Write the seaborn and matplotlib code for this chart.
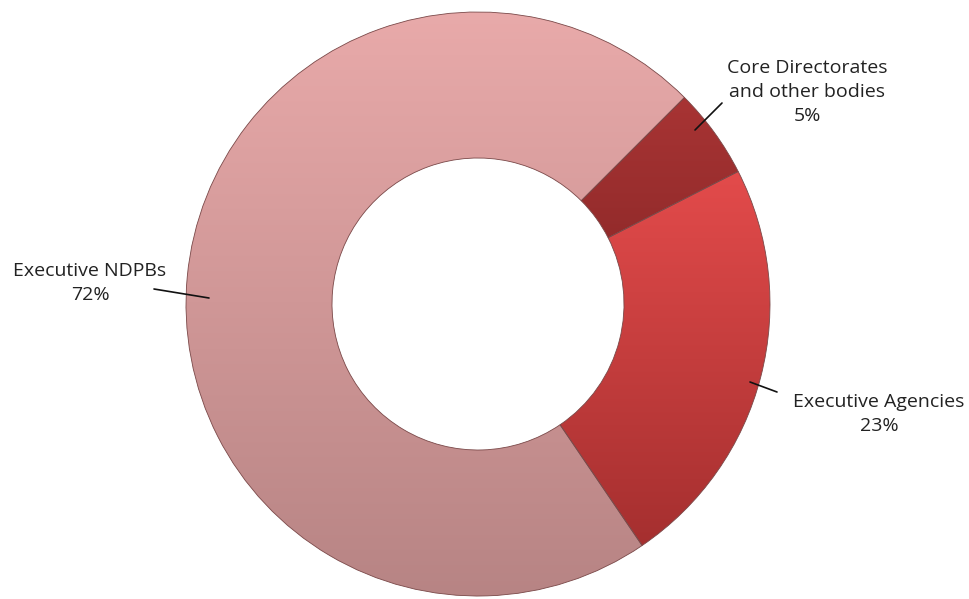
import numpy as np
import matplotlib
matplotlib.use("Agg")
import matplotlib.pyplot as plt
import matplotlib.colors as mcolors
import seaborn as sns

sns.set_theme(style="white")
plt.rcParams['font.family'] = ['Open Sans', 'DejaVu Sans']

# data (clockwise from upper right)
labels = ["Core Directorates\nand other bodies", "Executive Agencies", "Executive NDPBs"]
shares = [5, 23, 72]
top_colors = ["#A83434", "#E34B4B", "#E9AAAA"]
bottom_colors = ["#8A2727", "#A52F2F", "#B78484"]

fig = plt.figure(figsize=(9.7, 5.99), dpi=100)
ax = fig.add_axes([(478 - 292) / 970, (295 - 292) / 599, 584 / 970, 584 / 599])

wedges, _ = ax.pie(shares, startangle=45, counterclock=False, radius=1,
                   wedgeprops=dict(width=0.5, edgecolor="#7a4848", linewidth=0.6),
                   colors=top_colors)

# vertical gradient fill for each wedge, spanning the wedge's own height
for w, c1, c2 in zip(wedges, top_colors, bottom_colors):
    ys = w.get_path().vertices[:, 1]
    cmap = mcolors.LinearSegmentedColormap.from_list("g", [c2, c1])
    grad = np.linspace(0, 1, 256).reshape(-1, 1)
    im = ax.imshow(grad, cmap=cmap, extent=(-1, 1, ys.min(), ys.max()), origin="lower",
                   aspect="auto", zorder=w.get_zorder() + 0.1, interpolation="bilinear")
    im.set_clip_path(w)
    w.set_facecolor("none")
    w.set_zorder(w.get_zorder() + 0.2)

ax.set_xlim(-1, 1)
ax.set_ylim(-1, 1)
ax.set_aspect("equal")
ax.axis("off")

# labels with leader lines (pixel based in data units: 1 unit = 292 px)
def px(x, y):
    return ((x - 478) / 292, (304 - y) / 292)

label_pos = [px(807, 92), px(879, 414), px(90, 283)]
line_from = [px(695, 130), px(750, 382), px(209, 298)]
line_to = [px(722, 103), px(777, 392), px(154, 289)]

for lab, s, lp, a, b in zip(labels, shares, label_pos, line_from, line_to):
    ax.annotate(f"{lab}\n{s}%", xy=lp, ha="center", va="center",
                fontsize=14, color="#222222", annotation_clip=False,
                linespacing=1.4)
    ax.plot([a[0], b[0]], [a[1], b[1]], color="#111111", lw=1.2, clip_on=False, zorder=5)

fig.savefig("out.png", dpi=100)
